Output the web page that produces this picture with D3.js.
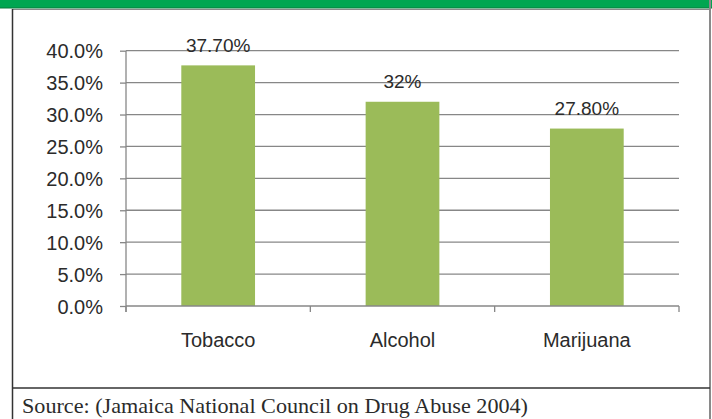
<!DOCTYPE html>
<html><head><meta charset="utf-8">
<script src="https://cdn.jsdelivr.net/npm/d3@7"></script>
<style>body{margin:0;background:#fff}svg{display:block}</style>
</head><body>
<svg id="chart" width="712" height="419"></svg>
<script>
const categories = ["Tobacco", "Alcohol", "Marijuana"];
const values = [0.377, 0.32, 0.278];
const valueLabels = ["37.70%", "32%", "27.80%"];
const yTicks = [0, 0.05, 0.10, 0.15, 0.20, 0.25, 0.30, 0.35, 0.40];
const sourceText = "Source: (Jamaica National Council on Drug Abuse 2004)";

const svg = d3.select("#chart");
const W = 712, H = 419;

// frame
svg.append("rect").attr("x", 0).attr("y", 0).attr("width", W).attr("height", 8).attr("fill", "#00a651");
svg.append("line").attr("x1", 0).attr("x2", W).attr("y1", 8).attr("y2", 8).attr("stroke", "#0b7a3c").attr("stroke-width", 1);
svg.append("line").attr("x1", 12).attr("x2", 710).attr("y1", 9.5).attr("y2", 9.5).attr("stroke", "#8a8a8a").attr("stroke-width", 1);
svg.append("line").attr("x1", 12.5).attr("x2", 12.5).attr("y1", 9).attr("y2", H).attr("stroke", "#333").attr("stroke-width", 1.5);
svg.append("line").attr("x1", 710).attr("x2", 710).attr("y1", 0).attr("y2", H).attr("stroke", "#8a8a8a").attr("stroke-width", 2);
svg.append("line").attr("x1", 12).attr("x2", 710).attr("y1", 388).attr("y2", 388).attr("stroke", "#333").attr("stroke-width", 1.5);

const x = d3.scaleBand().domain(categories).range([126, 679]).paddingInner(0.6).paddingOuter(0.3);
const y = d3.scaleLinear().domain([0, 0.4]).range([306, 50.7]);

const gridColor = "#878787";
const textColor = "#2b2b2b";
// gridlines
svg.append("g").selectAll("line").data(yTicks.slice(1)).join("line")
  .attr("x1", 126).attr("x2", 679)
  .attr("y1", d => y(d)).attr("y2", d => y(d))
  .attr("stroke", gridColor).attr("stroke-width", 1.3);

// y axis
const yAxis = d3.axisLeft(y).tickValues(yTicks).tickFormat(d3.format(".1%")).tickSize(6).tickPadding(17);
const gy = svg.append("g").attr("transform", "translate(126,0)").call(yAxis);
gy.select(".domain").attr("stroke", gridColor).attr("stroke-width", 1.3).attr("d", `M0,${y(0.4)}V${y(0)+6}`);
gy.selectAll(".tick line").attr("stroke", gridColor).attr("stroke-width", 1.3);
gy.selectAll(".tick text").attr("fill", textColor).style("font-family", "Liberation Sans, Arial, sans-serif").style("font-size", "20px").attr("dy", "0.35em");

// bars
svg.append("g").selectAll("rect").data(values).join("rect")
  .attr("x", (d, i) => x(categories[i]))
  .attr("width", x.bandwidth())
  .attr("y", d => y(d))
  .attr("height", d => y(0) - y(d))
  .attr("fill", "#9bbb59");

// x axis
const step = x.step();
const boundaries = [0, 1, 2, 3].map(i => 126 + i * step);
const gx = svg.append("g");
gx.append("line").attr("x1", 126).attr("x2", 679).attr("y1", y(0)).attr("y2", y(0)).attr("stroke", gridColor).attr("stroke-width", 1.5);
gx.selectAll("line.t").data(boundaries).join("line").attr("class", "t")
  .attr("x1", d => d).attr("x2", d => d).attr("y1", y(0)).attr("y2", y(0) + 6)
  .attr("stroke", gridColor).attr("stroke-width", 1.3);
gx.selectAll("text").data(categories).join("text")
  .attr("x", d => x(d) + x.bandwidth() / 2).attr("y", 347)
  .attr("text-anchor", "middle").attr("fill", textColor)
  .style("font-family", "Liberation Sans, Arial, sans-serif").style("font-size", "20px")
  .text(d => d);

// data labels
svg.append("g").selectAll("text").data(values).join("text")
  .attr("x", (d, i) => x(categories[i]) + x.bandwidth() / 2)
  .attr("y", d => y(d) - 13.5)
  .attr("text-anchor", "middle").attr("fill", textColor)
  .style("font-family", "Liberation Sans, Arial, sans-serif").style("font-size", "19px")
  .text((d, i) => valueLabels[i]);

// source
svg.append("text").attr("x", 22).attr("y", 413)
  .attr("fill", textColor)
  .style("font-family", "Liberation Serif, Times New Roman, serif").style("font-size", "21px")
  .attr("textLength", 506).attr("lengthAdjust", "spacingAndGlyphs")
  .text(sourceText);
</script>
</body></html>
